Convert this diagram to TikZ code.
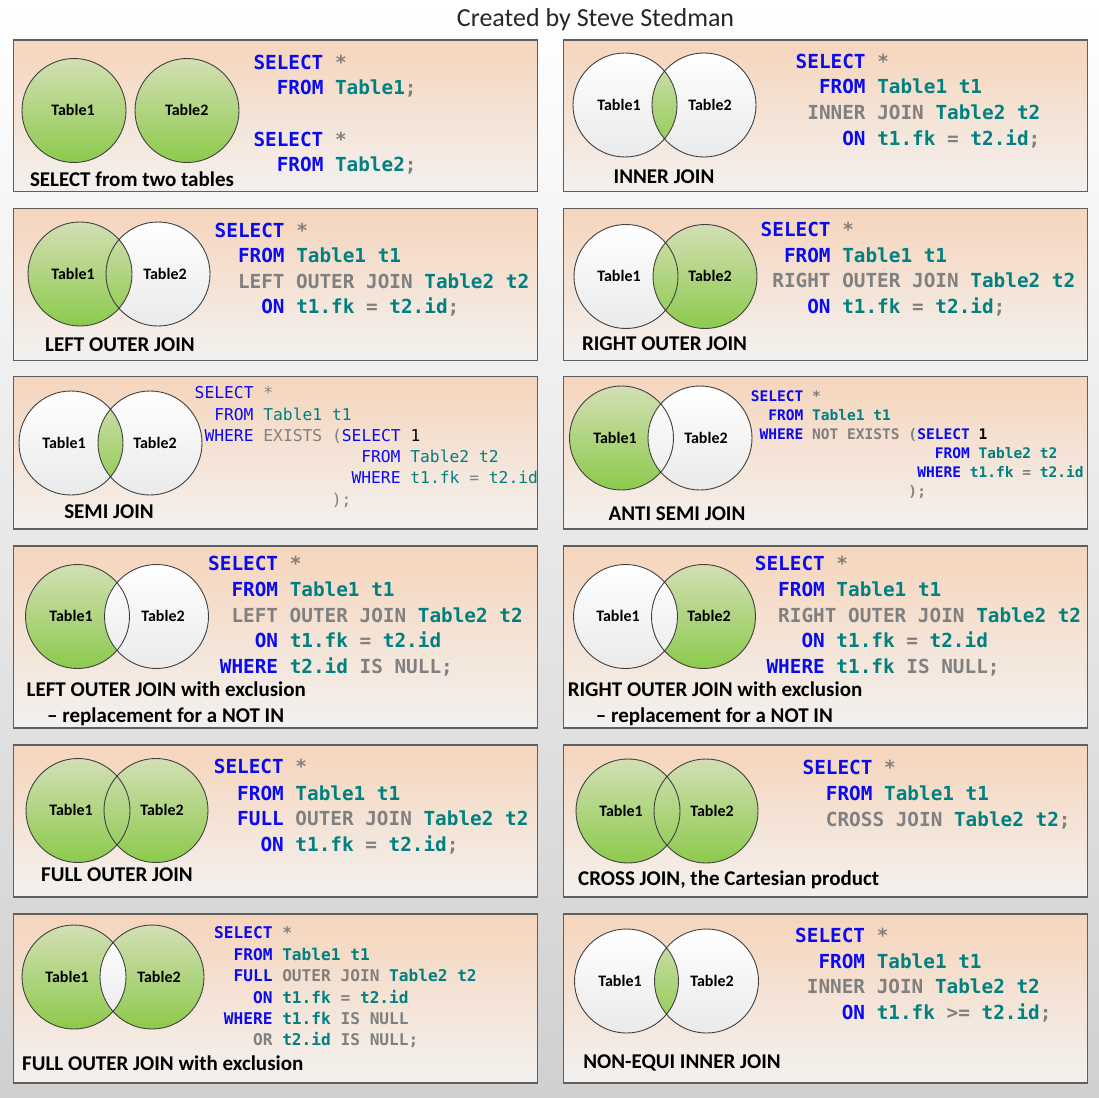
\documentclass[tikz,border=0pt]{standalone}
\usepackage{fontspec}
\setmainfont{Carlito}
\newfontfamily\codefont{DejaVu Sans Mono}
\usepackage{xcolor}
\newcommand{\kw}[1]{\textcolor{sqlblue}{#1}}
\newcommand{\nm}[1]{\textcolor{sqlteal}{#1}}
\newcommand{\gy}[1]{\textcolor{sqlgray}{#1}}

\begin{document}
\begin{tikzpicture}[x=1pt, y=-1pt,
  panel/.style={top color=pantop, bottom color=panbot, draw=panline, line width=1.2pt},
  ring/.style={draw=ringline, line width=0.9pt},
  tbl/.style={font=\bfseries\fontsize{16}{18}\selectfont, inner sep=0pt, text height=10.1pt, text depth=0pt},
  joincap/.style={font=\bfseries\fontsize{21}{24}\selectfont, text=black, inner sep=0pt, text height=13.3pt, text depth=0pt},
  codeL/.style={font=\codefont\fontsize{19.35}{22}\bfseries, anchor=west, inner sep=0pt, text height=14.1pt, text depth=0pt},
  codeS/.style={font=\codefont\fontsize{16.3}{19}\selectfont, anchor=west, inner sep=0pt, text height=11.9pt, text depth=0pt},
  codeA/.style={font=\codefont\fontsize{14.55}{17}\bfseries, anchor=west, inner sep=0pt, text height=10.6pt, text depth=0pt},
  codeM/.style={font=\codefont\fontsize{16.15}{19}\bfseries, anchor=west, inner sep=0pt, text height=11.8pt, text depth=0pt}]
  \definecolor{pantop}{RGB}{246,213,188}
  \definecolor{panbot}{RGB}{243,241,239}
  \definecolor{panline}{RGB}{95,95,95}
  \definecolor{ringline}{RGB}{64,64,64}
  \definecolor{gtop}{RGB}{211,223,180}
  \definecolor{gbot}{RGB}{140,202,76}
  \definecolor{wtop}{RGB}{255,255,255}
  \definecolor{wbot}{RGB}{234,234,234}
  \definecolor{bgbot}{RGB}{208,208,208}
  \definecolor{sqlblue}{RGB}{10,10,240}
  \definecolor{sqlteal}{RGB}{0,128,128}
  \definecolor{sqlgray}{RGB}{128,128,128}

  \shade[top color=white, bottom color=bgbot] (0,0) rectangle (1099,1097);
  \node[font=\fontsize{26}{30}\selectfont, text=black!85, inner sep=0pt, text height=16.8pt, text depth=0pt]
       (title) at (595.5,18.5) {Created by Steve Stedman};

  \foreach \py/\ph in {40/151.5, 208.5/152, 376.5/152.5, 546/182, 745/152, 914/169} {
    \foreach \px in {13.5, 563.5} {
      \shadedraw[panel] (\px,\py) rectangle ++(524,\ph);
    }
  }

  \foreach \ca/\cb/\cy/\la/\lb/\fa/\fb/\fl [count=\i] in {
      74/187/110.5/73/186.7/g/g/g, 625/704/105/619/710/w/w/g,
      80/158/274/73/165/g/w/g, 626/705/276.5/619/710/w/g/g,
      71/150/443/64/155/w/w/g, 621.5/700/438/615/706/g/w/w,
      77.5/156.5/616.5/71/163/g/w/w, 625.5/703.5/616.5/618/709/w/g/w,
      78/156/810.5/71/162/g/g/g, 628/706/811/621/712/g/g/g,
      74/152/977/67/159/g/g/w, 626.5/706.5/981/620/712/w/w/g} {
    \shade[top color=\fa top, bottom color=\fa bot] (\ca,\cy) circle (52pt);
    \shade[top color=\fb top, bottom color=\fb bot] (\cb,\cy) circle (52pt);
    \begin{scope}
      \clip (\ca,\cy) circle (52pt);
      \shade[top color=\fl top, bottom color=\fl bot] (\cb,\cy) circle (52pt);
    \end{scope}
    \draw[ring] (\ca,\cy) circle (52pt) (\cb,\cy) circle (52pt);
    \node[tbl] (left\i) at (\la,\cy) {Table1};
    \node[tbl] (right\i) at (\lb,\cy) {Table2};
  }

  \foreach \n/\yy/\tx [count=\k] in {0/62.5/{\kw{SELECT} \gy{*}}, 2/87.5/{\kw{FROM} \nm{Table1}\gy{;}},
      0/139/{\kw{SELECT} \gy{*}}, 2/164/{\kw{FROM} \nm{Table2}\gy{;}}}
    \node[codeL] (sqla\k) at (253.3+\n*11.65,\yy) {\tx};
  \foreach \n/\yy/\tx [count=\k] in {0/61/{\kw{SELECT} \gy{*}}, 2/86.7/{\kw{FROM} \nm{Table1 t1}},
      1/112.5/{\gy{INNER JOIN} \nm{Table2 t2}}, 4/138.3/{\kw{ON} \nm{t1.fk} \gy{=} \nm{t2.id}\gy{;}}}
    \node[codeL] (sqlb\k) at (795.5+\n*11.65,\yy) {\tx};
  \foreach \n/\yy/\tx [count=\k] in {0/230/{\kw{SELECT} \gy{*}}, 2/255/{\kw{FROM} \nm{Table1 t1}},
      2/281/{\gy{LEFT OUTER JOIN} \nm{Table2 t2}}, 4/306/{\kw{ON} \nm{t1.fk} \gy{=} \nm{t2.id}\gy{;}}}
    \node[codeL] (sqlc\k) at (214.5+\n*11.65,\yy) {\tx};
  \foreach \n/\yy/\tx [count=\k] in {0/229.7/{\kw{SELECT} \gy{*}}, 2/255/{\kw{FROM} \nm{Table1 t1}},
      1/280.8/{\gy{RIGHT OUTER JOIN} \nm{Table2 t2}}, 4/306/{\kw{ON} \nm{t1.fk} \gy{=} \nm{t2.id}\gy{;}}}
    \node[codeL] (sqld\k) at (760.5+\n*11.65,\yy) {\tx};
  \foreach \n/\yy/\tx [count=\k] in {0/393/{\kw{SELECT} \gy{*}}, 2/414.5/{\kw{FROM} \nm{Table1 t1}},
      1/436/{\kw{WHERE} \gy{EXISTS (}\kw{SELECT} 1}, 17/457/{\kw{FROM} \nm{Table2 t2}},
      16/478/{\kw{WHERE} \nm{t1.fk} \gy{=} \nm{t2.id}}, 14/499.5/{\gy{);}}}
    \node[codeS] (sqle\k) at (194.5+\n*9.8,\yy) {\tx};
  \foreach \n/\yy/\tx [count=\k] in {0/396/{\kw{SELECT} \gy{*}}, 2/415/{\kw{FROM} \nm{Table1 t1}},
      1/434/{\kw{WHERE} \gy{NOT EXISTS (}\kw{SELECT} 1}, 21/453/{\kw{FROM} \nm{Table2 t2}},
      19/472/{\kw{WHERE} \nm{t1.fk} \gy{=} \nm{t2.id}}, 18/491/{\gy{);}}}
    \node[codeA] (sqlf\k) at (750.6+\n*8.76,\yy) {\tx};
  \foreach \n/\yy/\tx [count=\k] in {0/563.5/{\kw{SELECT} \gy{*}}, 2/589.5/{\kw{FROM} \nm{Table1 t1}},
      2/615/{\gy{LEFT OUTER JOIN} \nm{Table2 t2}}, 4/640.5/{\kw{ON} \nm{t1.fk} \gy{=} \nm{t2.id}},
      1/666/{\kw{WHERE} \nm{t2.id} \gy{IS NULL;}}}
    \node[codeL] (sqlg\k) at (208+\n*11.65,\yy) {\tx};
  \foreach \n/\yy/\tx [count=\k] in {0/563.5/{\kw{SELECT} \gy{*}}, 2/589.5/{\kw{FROM} \nm{Table1 t1}},
      2/615/{\gy{RIGHT OUTER JOIN} \nm{Table2 t2}}, 4/640.5/{\kw{ON} \nm{t1.fk} \gy{=} \nm{t2.id}},
      1/666/{\kw{WHERE} \nm{t1.fk} \gy{IS NULL;}}}
    \node[codeL] (sqlh\k) at (754.7+\n*11.65,\yy) {\tx};
  \foreach \n/\yy/\tx [count=\k] in {0/766.7/{\kw{SELECT} \gy{*}}, 2/793/{\kw{FROM} \nm{Table1 t1}},
      2/818.7/{\kw{FULL} \gy{OUTER JOIN} \nm{Table2 t2}}, 4/844/{\kw{ON} \nm{t1.fk} \gy{=} \nm{t2.id}\gy{;}}}
    \node[codeL] (sqli\k) at (213.7+\n*11.65,\yy) {\tx};
  \foreach \n/\yy/\tx [count=\k] in {0/767/{\kw{SELECT} \gy{*}}, 2/793/{\kw{FROM} \nm{Table1 t1}},
      2/819/{\gy{CROSS JOIN} \nm{Table2 t2}\gy{;}}}
    \node[codeL] (sqlj\k) at (802.4+\n*11.65,\yy) {\tx};
  \foreach \n/\yy/\tx [count=\k] in {0/933/{\kw{SELECT} \gy{*}}, 2/954.5/{\kw{FROM} \nm{Table1 t1}},
      2/976/{\kw{FULL} \gy{OUTER JOIN} \nm{Table2 t2}}, 4/998/{\kw{ON} \nm{t1.fk} \gy{=} \nm{t2.id}},
      1/1018.7/{\kw{WHERE} \nm{t1.fk} \gy{IS NULL}}, 4/1040/{\gy{OR} \nm{t2.id} \gy{IS NULL;}}}
    \node[codeM] (sqlk\k) at (214+\n*9.72,\yy) {\tx};
  \foreach \n/\yy/\tx [count=\k] in {0/935.5/{\kw{SELECT} \gy{*}}, 2/961/{\kw{FROM} \nm{Table1 t1}},
      1/986/{\gy{INNER JOIN} \nm{Table2 t2}}, 4/1012/{\kw{ON} \nm{t1.fk} \gy{>=} \nm{t2.id}\gy{;}}}
    \node[codeL] (sqll\k) at (795+\n*11.65,\yy) {\tx};

  \foreach \xx/\yy/\tx [count=\k] in {132/180/SELECT from two tables, 664/177/INNER JOIN,
      120/344.5/LEFT OUTER JOIN, 664.5/343.7/RIGHT OUTER JOIN, 109/512/SEMI JOIN,
      677/514/ANTI SEMI JOIN, 117/875/FULL OUTER JOIN, 682/1062/NON-EQUI INNER JOIN}
    \node[joincap] (cap\k) at (\xx,\yy) {\tx};
  \node[joincap, anchor=west] (capg) at (26.5,690) {LEFT OUTER JOIN with exclusion};
  \node[joincap, anchor=west] (capgb) at (47,716) {-- replacement for a NOT IN};
  \node[joincap, anchor=west] (caph) at (567.6,690) {RIGHT OUTER JOIN with exclusion};
  \node[joincap, anchor=west] (caphb) at (595.7,716) {-- replacement for a NOT IN};
  \node[joincap, anchor=west] (capj) at (578,879) {CROSS JOIN, the Cartesian product};
  \node[joincap, anchor=west] (capk) at (22,1063.7) {FULL OUTER JOIN with exclusion};
\end{tikzpicture}
\end{document}
